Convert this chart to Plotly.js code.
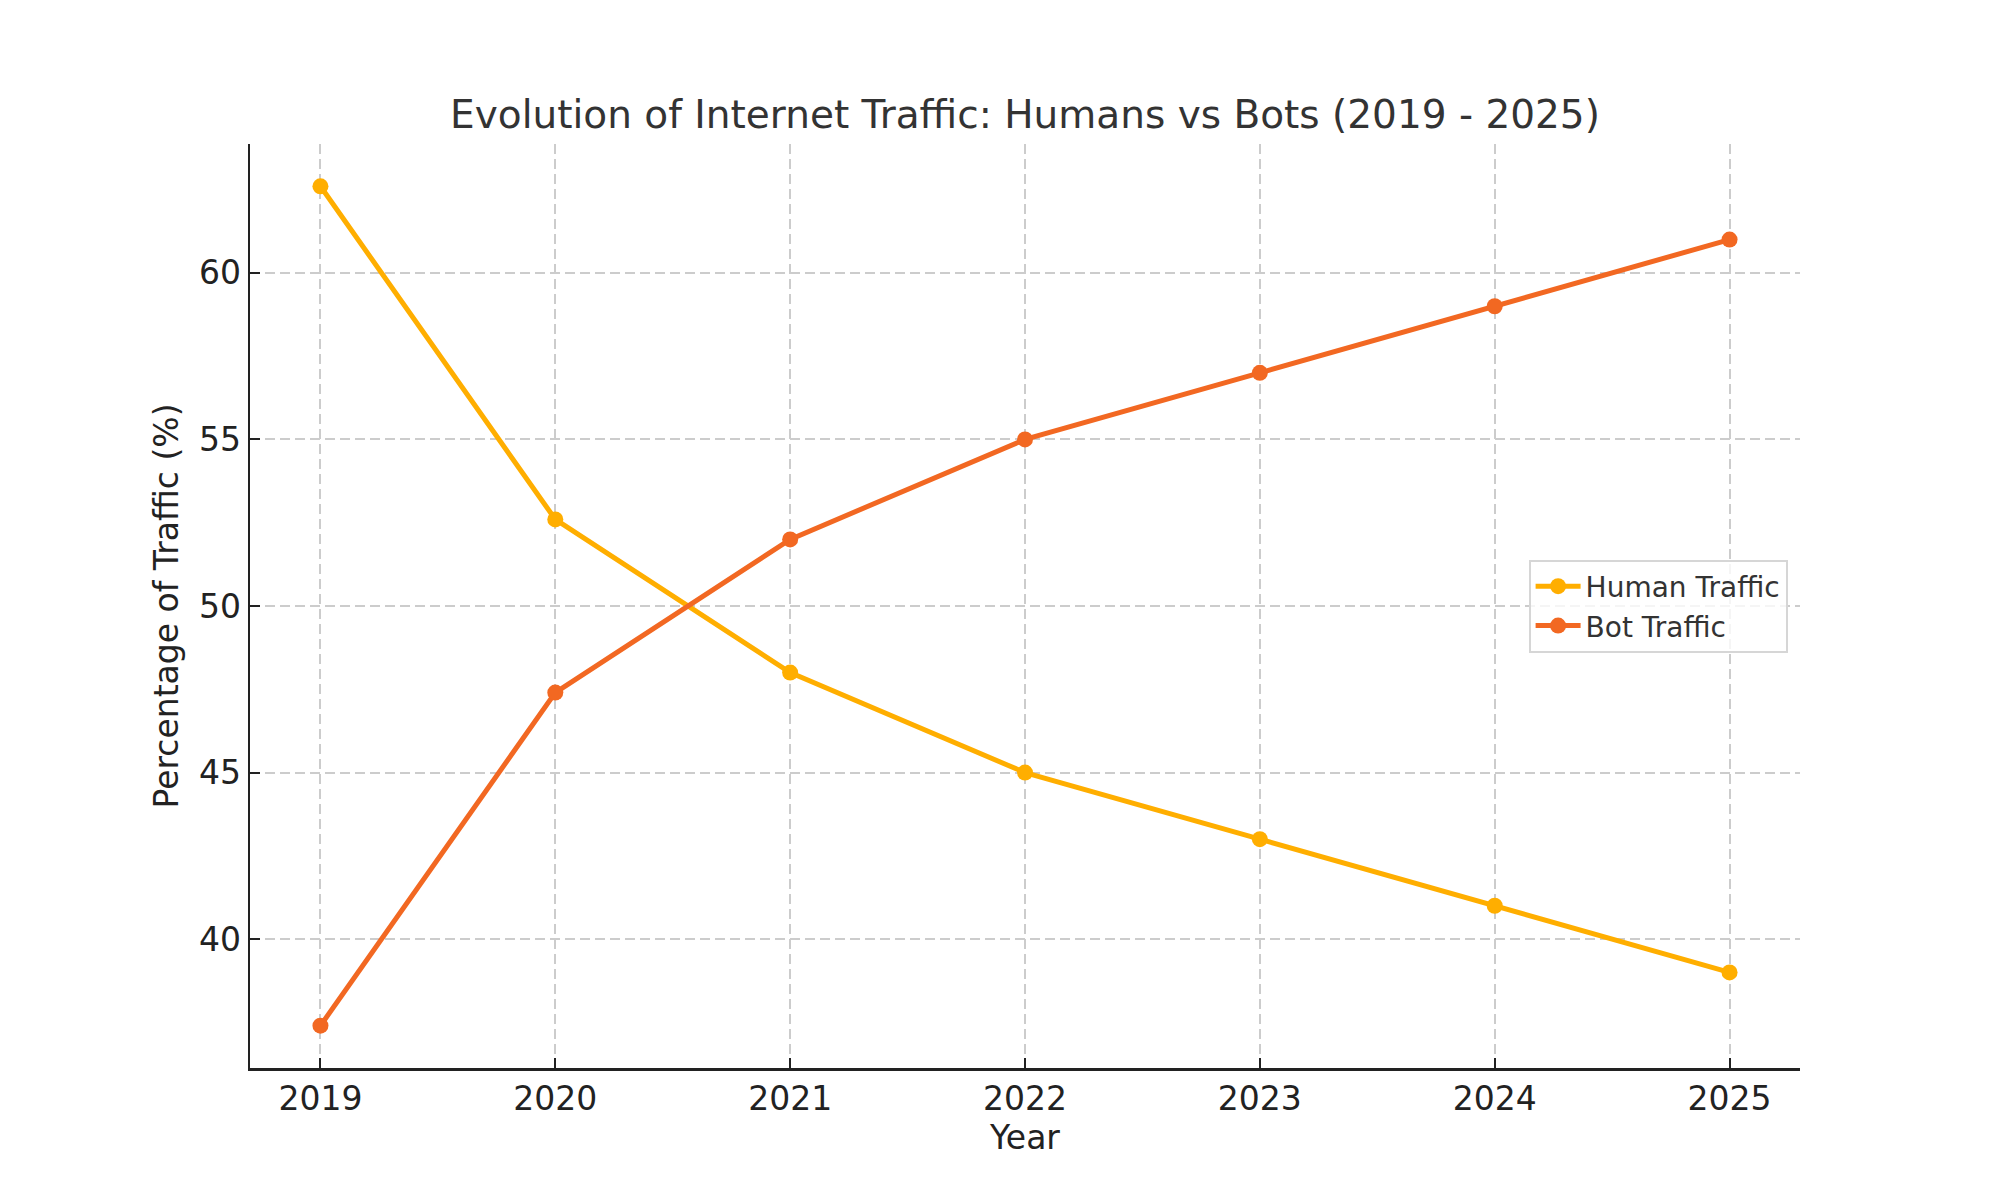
<!DOCTYPE html>
<html>
<head>
<meta charset="utf-8">
<script src="https://cdn.plot.ly/plotly-3.0.1.min.js"></script>
<style>
  html, body { margin: 0; padding: 0; background: #fff; }
  #chart { width: 2000px; height: 1200px; }
</style>
</head>
<body>
<div id="chart"></div>
<script>
    'use strict';

    // years on the x axis
    var years = [2019, 2020, 2021, 2022, 2023, 2024, 2025];
    // share of traffic, percent
    var humanTraffic = [62.6, 52.6, 48, 45, 43, 41, 39];
    var botTraffic = [37.4, 47.4, 52, 55, 57, 59, 61];
    var yTicks = [40, 45, 50, 55, 60];

    var font = 'DejaVu Sans, sans-serif';

    function series(name, values, color) {
        return {
            x: years,
            y: values,
            name: name,
            type: 'scatter',
            mode: 'lines+markers',
            line: { color: color, width: 5 },
            marker: { color: color, size: 16 }
        };
    }

    var data = [
        series('Human Traffic', humanTraffic, '#ffae00'),
        series('Bot Traffic', botTraffic, '#f26822')
    ];

    var axisCommon = {
        showline: true,
        linecolor: '#222',
        linewidth: 2.5,
        ticks: 'inside',
        ticklen: 10,
        tickwidth: 2,
        tickcolor: '#222',
        showgrid: true,
        gridcolor: '#cccccc',
        gridwidth: 2,
        griddash: '10px,5px',
        zeroline: false,
        automargin: false,
        tickfont: { family: font, size: 33, color: '#222' }
    };

    var layout = {
        width: 2000,
        height: 1200,
        paper_bgcolor: '#fff',
        plot_bgcolor: '#fff',
        margin: { l: 250, r: 200, t: 144, b: 132 },
        title: {
            text: 'Evolution of Internet Traffic: Humans vs Bots (2019 - 2025)',
            font: { family: font, size: 39, color: '#333' },
            xref: 'paper',
            x: 0.5,
            xanchor: 'center',
            y: 1 - 114 / 1200,
            yanchor: 'middle'
        },
        xaxis: Object.assign({}, axisCommon, {
            range: [2018.7, 2025.3],
            tickvals: years,
            ticktext: years.map(String),
            title: { text: 'Year', font: { family: font, size: 33, color: '#222' }, standoff: 8 }
        }),
        yaxis: Object.assign({}, axisCommon, {
            range: [36.13, 63.87],
            tickvals: yTicks,
            title: { text: 'Percentage of Traffic (%)', font: { family: font, size: 33, color: '#222' }, standoff: 11 }
        }),
        showlegend: true,
        legend: {
            x: 0.992,
            xanchor: 'right',
            y: 0.5,
            yanchor: 'middle',
            bgcolor: 'rgba(255,255,255,0.8)',
            bordercolor: '#d6d6d6',
            borderwidth: 2,
            itemwidth: 45,
            font: { family: font, size: 28, color: '#333' },
            tracegroupgap: 4
        }
    };

    Plotly.newPlot('chart', data, layout, { displayModeBar: false, staticPlot: true });
</script>
</body>
</html>
